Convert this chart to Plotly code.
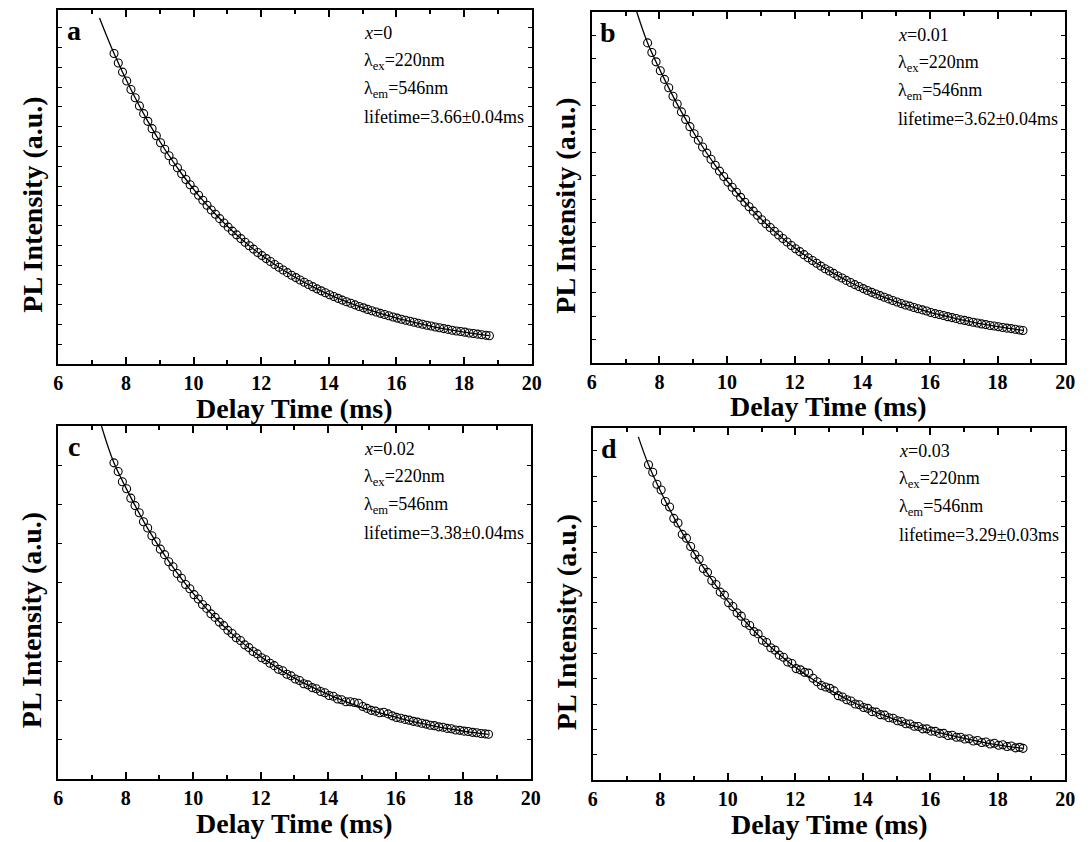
import plotly.graph_objects as go

# ---------------- data (arbitrary intensity units) ----------------
delay_ms = [7.650, 7.775, 7.900, 8.025, 8.150, 8.275, 8.400, 8.525, 8.650, 8.775,
            8.900, 9.025, 9.150, 9.275, 9.400, 9.525, 9.650, 9.775, 9.900, 10.025,
            10.150, 10.275, 10.400, 10.525, 10.650, 10.775, 10.900, 11.025, 11.150, 11.275,
            11.400, 11.525, 11.650, 11.775, 11.900, 12.025, 12.150, 12.275, 12.400, 12.525,
            12.650, 12.775, 12.900, 13.025, 13.150, 13.275, 13.400, 13.525, 13.650, 13.775,
            13.900, 14.025, 14.150, 14.275, 14.400, 14.525, 14.650, 14.775, 14.900, 15.025,
            15.150, 15.275, 15.400, 15.525, 15.650, 15.775, 15.900, 16.025, 16.150, 16.275,
            16.400, 16.525, 16.650, 16.775, 16.900, 17.025, 17.150, 17.275, 17.400, 17.525,
            17.650, 17.775, 17.900, 18.025, 18.150, 18.275, 18.400, 18.525, 18.650, 18.750]

pl_a = [15.70, 15.22, 14.76, 14.31, 13.88, 13.46, 13.05, 12.66, 12.27, 11.90,
        11.54, 11.19, 10.86, 10.53, 10.22, 9.92, 9.62, 9.33, 9.06, 8.79,
        8.53, 8.28, 8.03, 7.79, 7.57, 7.35, 7.13, 6.92, 6.72, 6.53,
        6.34, 6.16, 5.98, 5.81, 5.64, 5.48, 5.33, 5.18, 5.03, 4.89,
        4.75, 4.62, 4.49, 4.37, 4.25, 4.13, 4.02, 3.91, 3.80, 3.70,
        3.60, 3.50, 3.41, 3.32, 3.23, 3.15, 3.07, 2.99, 2.91, 2.84,
        2.76, 2.69, 2.63, 2.56, 2.50, 2.44, 2.38, 2.32, 2.26, 2.21,
        2.16, 2.11, 2.06, 2.01, 1.96, 1.92, 1.87, 1.83, 1.79, 1.75,
        1.71, 1.67, 1.64, 1.61, 1.57, 1.54, 1.51, 1.48, 1.45, 1.43]
pl_b = [13.68, 13.27, 12.87, 12.49, 12.12, 11.76, 11.40, 11.07, 10.73, 10.41,
        10.10, 9.80, 9.52, 9.23, 8.97, 8.71, 8.45, 8.20, 7.97, 7.73,
        7.51, 7.30, 7.08, 6.87, 6.68, 6.49, 6.31, 6.12, 5.95, 5.79,
        5.63, 5.47, 5.32, 5.17, 5.02, 4.88, 4.76, 4.63, 4.50, 4.38,
        4.26, 4.14, 4.03, 3.93, 3.83, 3.72, 3.63, 3.53, 3.44, 3.35,
        3.27, 3.18, 3.10, 3.02, 2.95, 2.88, 2.81, 2.74, 2.67, 2.61,
        2.54, 2.48, 2.43, 2.37, 2.32, 2.27, 2.22, 2.16, 2.11, 2.07,
        2.03, 1.98, 1.94, 1.90, 1.85, 1.82, 1.78, 1.74, 1.71, 1.67,
        1.64, 1.60, 1.58, 1.55, 1.52, 1.49, 1.47, 1.44, 1.41, 1.39]
pl_c = [8.06, 7.84, 7.58, 7.40, 7.16, 6.97, 6.79, 6.56, 6.40, 6.20,
        6.05, 5.86, 5.72, 5.54, 5.41, 5.24, 5.12, 4.96, 4.85, 4.70,
        4.59, 4.45, 4.35, 4.21, 4.12, 4.00, 3.91, 3.79, 3.71, 3.60,
        3.53, 3.42, 3.35, 3.25, 3.19, 3.09, 3.04, 2.95, 2.89, 2.80,
        2.76, 2.67, 2.63, 2.55, 2.51, 2.43, 2.40, 2.33, 2.30, 2.23,
        2.20, 2.13, 2.11, 2.04, 2.02, 1.97, 1.97, 1.95, 1.93, 1.85,
        1.80, 1.75, 1.73, 1.69, 1.70, 1.66, 1.61, 1.57, 1.55, 1.52,
        1.50, 1.47, 1.45, 1.42, 1.40, 1.37, 1.36, 1.33, 1.32, 1.29,
        1.28, 1.25, 1.24, 1.22, 1.21, 1.19, 1.18, 1.16, 1.15, 1.14]
pl_d = [12.45, 12.15, 11.68, 11.45, 11.00, 10.78, 10.33, 10.15, 9.70, 9.55,
        9.22, 8.90, 8.72, 8.35, 8.20, 7.88, 7.72, 7.42, 7.30, 7.00,
        6.85, 6.60, 6.47, 6.20, 6.10, 5.86, 5.77, 5.52, 5.43, 5.22,
        5.13, 4.93, 4.85, 4.66, 4.60, 4.40, 4.35, 4.25, 4.22, 4.02,
        3.88, 3.73, 3.67, 3.62, 3.52, 3.33, 3.28, 3.17, 3.12, 3.00,
        2.97, 2.86, 2.83, 2.70, 2.68, 2.58, 2.56, 2.46, 2.44, 2.34,
        2.31, 2.22, 2.21, 2.12, 2.11, 2.02, 2.02, 1.93, 1.92, 1.84,
        1.84, 1.76, 1.77, 1.69, 1.69, 1.62, 1.63, 1.54, 1.56, 1.48,
        1.50, 1.42, 1.45, 1.37, 1.39, 1.32, 1.34, 1.27, 1.29, 1.25]

fit_t_a = [7.22, 7.65, 8.15, 8.65, 9.15, 9.65, 10.15, 10.65, 11.15, 11.65, 12.15, 12.65,
           13.15, 13.65, 14.15, 14.65, 15.15, 15.65, 16.15, 16.65, 17.15, 17.65, 18.15, 18.75]
fit_a = [17.50, 15.70, 13.88, 12.27, 10.86, 9.62, 8.53, 7.57, 6.72, 5.98, 5.33, 4.75,
         4.25, 3.80, 3.41, 3.07, 2.76, 2.50, 2.26, 2.06, 1.87, 1.71, 1.57, 1.43]
fit_t_b = [7.33, 7.65, 8.15, 8.65, 9.15, 9.65, 10.15, 10.65, 11.15, 11.65, 12.15, 12.65,
           13.15, 13.65, 14.15, 14.65, 15.15, 15.65, 16.15, 16.65, 17.15, 17.65, 18.15, 18.75]
fit_b = [15.00, 13.68, 12.12, 10.73, 9.52, 8.45, 7.51, 6.68, 5.95, 5.32, 4.76, 4.26,
         3.83, 3.44, 3.10, 2.81, 2.54, 2.32, 2.11, 1.94, 1.78, 1.64, 1.52, 1.39]
fit_t_c = [7.28, 7.65, 8.15, 8.65, 9.15, 9.65, 10.15, 10.65, 11.15, 11.65, 12.15, 12.65,
           13.15, 13.65, 14.15, 14.65, 15.15, 15.65, 16.15, 16.65, 17.15, 17.65, 18.15, 18.75]
fit_c = [9.00, 8.06, 7.18, 6.39, 5.71, 5.11, 4.58, 4.11, 3.70, 3.34, 3.03, 2.75,
         2.50, 2.29, 2.10, 1.93, 1.78, 1.66, 1.54, 1.44, 1.35, 1.27, 1.20, 1.14]
fit_t_d = [7.35, 7.65, 8.15, 8.65, 9.15, 9.65, 10.15, 10.65, 11.15, 11.65, 12.15, 12.65,
           13.15, 13.65, 14.15, 14.65, 15.15, 15.65, 16.15, 16.65, 17.15, 17.65, 18.15, 18.75]
fit_d = [13.55, 12.45, 11.02, 9.76, 8.65, 7.68, 6.82, 6.07, 5.40, 4.82, 4.31, 3.86,
         3.46, 3.11, 2.81, 2.54, 2.29, 2.09, 1.90, 1.75, 1.60, 1.47, 1.36, 1.25]

panel_letters = ["a", "b", "c", "d"]
compositions = ["0", "0.01", "0.02", "0.03"]
lifetimes = ["3.66±0.04ms", "3.62±0.04ms", "3.38±0.04ms", "3.29±0.03ms"]
y_tops = [17.9, 15.0, 9.0, 13.9]

x_label = "Delay Time (ms)"
y_label = "PL Intensity (a.u.)"

# ---------------- layout geometry (pixels) ----------------
W, H = 1092, 842
boxes = [(54, 534, 10, 364), (595, 1075, 12, 363), (54, 533, 426, 779), (596, 1075, 428, 780)]


def fx(px):
    return px / W


def fy(py):
    return 1 - py / H


FONT = "Liberation Serif"

fig = go.Figure()
series = [pl_a, pl_b, pl_c, pl_d]
fits = [(fit_t_a, fit_a), (fit_t_b, fit_b), (fit_t_c, fit_c), (fit_t_d, fit_d)]

for i in range(4):
    xa = "x" if i == 0 else f"x{i+1}"
    ya = "y" if i == 0 else f"y{i+1}"
    fig.add_trace(go.Scatter(x=delay_ms, y=series[i], mode="markers", xaxis=xa, yaxis=ya,
                             marker=dict(symbol="circle-open", size=8, color="black",
                                         line=dict(width=1.1, color="black")),
                             showlegend=False, hoverinfo="skip"))
    fig.add_trace(go.Scatter(x=fits[i][0], y=fits[i][1], mode="lines", xaxis=xa, yaxis=ya,
                             line=dict(color="black", width=1.3, shape="spline"),
                             showlegend=False, hoverinfo="skip"))

layout = dict(width=W, height=H, margin=dict(l=0, r=0, t=0, b=0),
              paper_bgcolor="white", plot_bgcolor="white", showlegend=False)

annotations = []
for i, (l, r, t, b) in enumerate(boxes):
    xk = "xaxis" if i == 0 else f"xaxis{i+1}"
    yk = "yaxis" if i == 0 else f"yaxis{i+1}"
    ya = "y" if i == 0 else f"y{i+1}"
    xa = "x" if i == 0 else f"x{i+1}"
    layout[xk] = dict(domain=[fx(l), fx(r)], anchor=ya, range=[6, 20], tick0=6, dtick=2,
                      ticks="inside", ticklen=7, tickwidth=1.5, tickcolor="black",
                      minor=dict(dtick=1, ticks="inside", ticklen=4, tickwidth=1.5, tickcolor="black"),
                      showline=True, linecolor="black", linewidth=1.8, mirror="ticks",
                      showgrid=False, zeroline=False,
                      tickfont=dict(family=FONT, size=20, color="black", weight="bold"))
    layout[yk] = dict(domain=[fy(b), fy(t)], anchor=xa, range=[0, y_tops[i]], tick0=0, dtick=1,
                      ticks="inside", ticklen=4, tickwidth=1.2, tickcolor="black",
                      showticklabels=False, showline=True, linecolor="black", linewidth=1.8,
                      mirror="ticks", showgrid=False, zeroline=False)
    # panel letter
    annotations.append(dict(xref="paper", yref="paper", x=fx(l + 16), y=fy(t + 20),
                            xanchor="center", yanchor="middle",
                            text=f"<b>{panel_letters[i]}</b>", showarrow=False,
                            font=dict(family=FONT, size=28, color="black")))
    # info text
    tx = l + 308
    lines = [f"<i>x</i>={compositions[i]}", "λ<sub>ex</sub>=220nm", "λ<sub>em</sub>=546nm",
             f"lifetime={lifetimes[i]}"]
    offs = [23, 51, 79, 107]
    for s, o in zip(lines, offs):
        annotations.append(dict(xref="paper", yref="paper", x=fx(tx), y=fy(t + o),
                                xanchor="left", yanchor="middle", text=s, showarrow=False,
                                font=dict(family=FONT, size=18, color="black")))
    # axis titles
    annotations.append(dict(xref="paper", yref="paper", x=fx((l + r) / 2), y=fy(b + 44),
                            xanchor="center", yanchor="middle",
                            text=f"<b>{x_label}</b>", showarrow=False,
                            font=dict(family=FONT, size=28, color="black")))
    annotations.append(dict(xref="paper", yref="paper", x=fx(l - 27), y=fy((t + b) / 2 + 18),
                            xanchor="center", yanchor="middle",
                            text=f"<b>{y_label}</b>", showarrow=False, textangle=-90,
                            font=dict(family=FONT, size=28, color="black")))

layout["annotations"] = annotations
fig.update_layout(**layout)
fig.write_html("out.html")
